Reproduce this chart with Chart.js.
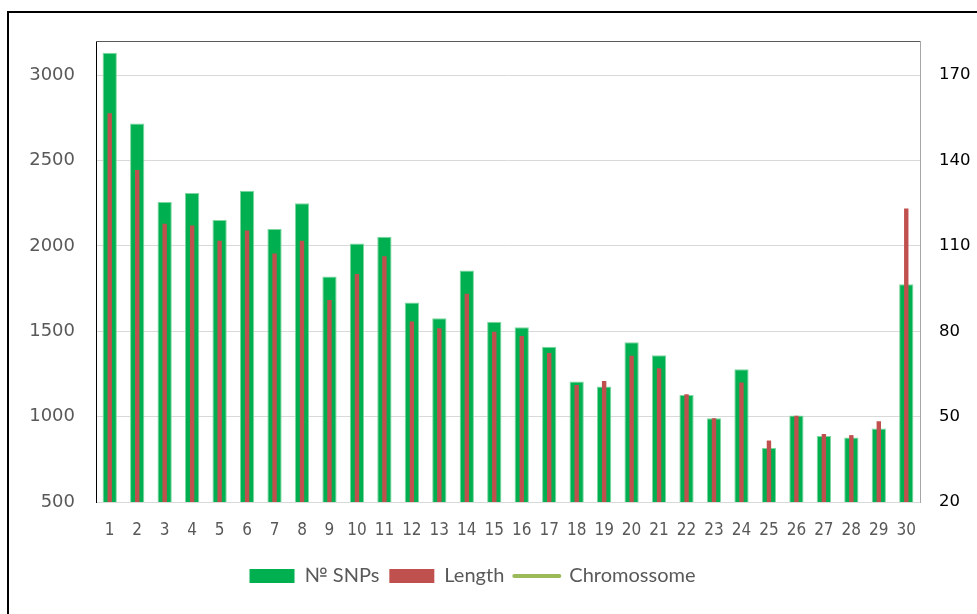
<!DOCTYPE html>
<html>
<head>
<meta charset="utf-8">
<title>SNPs per chromosome</title>
<script src="https://cdn.jsdelivr.net/npm/chart.js@4.4.1/dist/chart.umd.min.js"></script>
<style>
  html, body { margin: 0; padding: 0; background: #ffffff; }
  #wrap { position: relative; width: 977px; height: 614px; overflow: hidden; }
  #frame { position: absolute; left: 7px; top: 11px; right: -10px; bottom: -10px;
           border-left: 2px solid #000; border-top: 2px solid #000; }
  #chart { position: absolute; left: 0; top: 0; }
</style>
</head>
<body>
<div id="wrap">
  <div id="frame"></div>
  <canvas id="chart" width="977" height="614"></canvas>
</div>
<script>
// Chromosome numbers on the category axis
const chromosomes = ['1','2','3','4','5','6','7','8','9','10','11','12','13','14','15',
                     '16','17','18','19','20','21','22','23','24','25','26','27','28','29','30'];

// Number of SNPs per chromosome (left axis)
const snpCounts = [3131, 2717, 2257, 2310, 2151, 2323, 2099, 2249, 1820, 2014,
                   2053, 1668, 1576, 1856, 1555, 1523, 1410, 1206, 1177, 1435,
                   1359, 1126, 991, 1277, 817, 1007, 886, 878, 931, 1776];

// Chromosome length (right axis)
const lengths = [156.6, 136.7, 117.8, 117.2, 111.8, 115.4, 107.3, 111.8, 91.0, 100.1,
                 106.4, 83.4, 81.1, 93.2, 79.8, 78.3, 72.4, 61.1, 62.5, 71.4,
                 67.0, 57.9, 49.4, 62.0, 41.6, 50.3, 43.9, 43.5, 48.4, 123.1];

// Series names shown in the legend
const seriesNames = ['\u2116 SNPs', 'Length', 'Chromossome'];

// Tick values and ranges of the two value axes
const leftTickValues = [500, 1000, 1500, 2000, 2500, 3000];
const rightTickValues = [20, 50, 80, 110, 140, 170];
const leftRange = [500, 3200];
const rightRange = [20, 182];

const GREEN = '#00B050';
const RED = '#C0504D';
const OLIVE = '#9BBB59';

// Top edge of the plotting area, plus a nudge of the legend to the left
const plotFrame = {
  id: 'plotFrame',
  afterLayout(chart) {
    if (chart.legend) { chart.legend.right -= 32; }
  },
  afterDatasetsDraw(chart) {
    const a = chart.chartArea, ctx = chart.ctx;
    ctx.save();
    ctx.strokeStyle = '#595959';
    ctx.lineWidth = 1;
    ctx.beginPath();
    ctx.moveTo(a.left, a.top + 0.5);
    ctx.lineTo(a.right, a.top + 0.5);
    ctx.stroke();
    ctx.restore();
  }
};

new Chart(document.getElementById('chart'), {
  data: {
    labels: chromosomes,
    datasets: [
      {
        type: 'bar',
        label: seriesNames[0],
        data: snpCounts,
        yAxisID: 'y',
        backgroundColor: GREEN,
        borderColor: '#7fd7a0',
        borderWidth: 1,
        borderSkipped: 'start',
        categoryPercentage: 1,
        barPercentage: 0.52,
        grouped: false,
        order: 2
      },
      {
        type: 'bar',
        label: seriesNames[1],
        data: lengths,
        yAxisID: 'y1',
        backgroundColor: RED,
        borderWidth: 0,
        categoryPercentage: 1,
        barPercentage: 0.16,
        grouped: false,
        order: 1
      },
      {
        type: 'line',
        label: seriesNames[2],
        data: [],
        yAxisID: 'y',
        borderColor: OLIVE,
        backgroundColor: OLIVE,
        borderWidth: 4,
        order: 0
      }
    ]
  },
  options: {
    responsive: false,
    animation: false,
    layout: { padding: { top: 41, left: 0, right: 0, bottom: 18 } },
    plugins: {
      tooltip: { enabled: false },
      legend: {
        position: 'bottom',
        align: 'center',
        labels: {
          usePointStyle: true,
          pointStyleWidth: 45,
          boxHeight: 14,
          padding: 10,
          color: '#595959',
          font: { family: 'Lato, "Liberation Sans", sans-serif', size: 20 },
          generateLabels(chart) {
            return chart.data.datasets.map((ds, i) => {
              const isLine = ds.type === 'line';
              return {
                text: ds.label,
                datasetIndex: i,
                hidden: false,
                fillStyle: isLine ? 'rgba(0,0,0,0)' : ds.backgroundColor,
                strokeStyle: isLine ? ds.borderColor : ds.backgroundColor,
                lineWidth: isLine ? 4 : 0,
                lineCap: 'round',
                pointStyle: isLine ? 'line' : 'rect',
                fontColor: '#595959'
              };
            });
          }
        }
      }
    },
    scales: {
      x: {
        grid: { display: false, drawTicks: false },
        border: { display: true, color: '#d9d9d9', width: 1 },
        ticks: {
          autoSkip: false, maxRotation: 0, minRotation: 0, padding: 18,
          color: '#595959',
          font: { family: '"Liberation Sans Narrow", "DejaVu Sans Condensed", sans-serif', size: 17 }
        },
        afterFit(scale) { scale.height = 54; }
      },
      y: {
        position: 'left',
        min: leftRange[0], max: leftRange[1],
        grid: { color: '#d9d9d9', lineWidth: 1, drawTicks: false },
        border: { display: true, color: '#000000', width: 1 },
        ticks: {
          padding: 21,
          color: '#595959',
          font: { family: '"DejaVu Sans", sans-serif', size: 18 },
          callback: (v) => String(v)
        },
        afterBuildTicks(scale) { scale.ticks = leftTickValues.map(v => ({ value: v })); },
        afterFit(scale) { scale.width = 96; }
      },
      y1: {
        position: 'right',
        min: rightRange[0], max: rightRange[1],
        grid: { display: false, drawTicks: false },
        border: { display: true, color: '#a6a6a6', width: 1 },
        ticks: {
          padding: 19,
          color: '#000000',
          font: { family: '"DejaVu Sans", sans-serif', size: 16.5 },
          callback: (v) => String(v)
        },
        afterBuildTicks(scale) { scale.ticks = rightTickValues.map(v => ({ value: v })); },
        afterFit(scale) { scale.width = 57; }
      }
    }
  },
  plugins: [plotFrame]
});
</script>
</body>
</html>
